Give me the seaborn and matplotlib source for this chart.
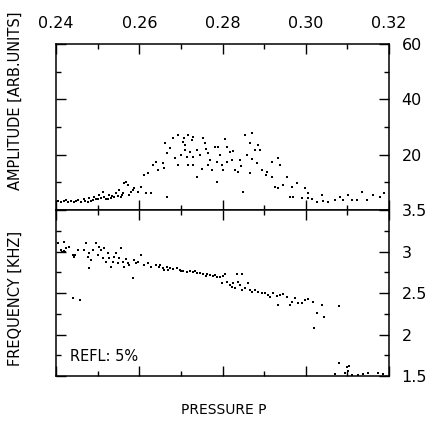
import numpy as np
import pandas as pd
import matplotlib
matplotlib.use('Agg')
import matplotlib.pyplot as plt
from matplotlib.ticker import MultipleLocator, FormatStrFormatter
import seaborn as sns

# amplitude vs pressure (upper panel)
amp_p = [0.2412, 0.2419, 0.2429, 0.2436, 0.2443, 0.2453, 0.2460, 0.2467, 0.2477, 0.2479,
         0.2489, 0.2491, 0.2501, 0.2503, 0.2513, 0.2515, 0.2520, 0.2527, 0.2532, 0.2539,
         0.2544, 0.2551, 0.2556, 0.2561, 0.2563, 0.2568, 0.2573, 0.2575, 0.2585, 0.2587,
         0.2597, 0.2604, 0.2612, 0.2621, 0.2616, 0.2628, 0.2633, 0.2640, 0.2645, 0.2657,
         0.2659, 0.2667, 0.2405, 0.2425, 0.2448, 0.2470, 0.2484, 0.2496, 0.2508, 0.2525,
         0.2535, 0.2548, 0.2558, 0.2580,
         0.2662, 0.2681, 0.2693, 0.2705, 0.2710, 0.2708, 0.2717, 0.2727, 0.2729, 0.2667,
         0.2674, 0.2686, 0.2693, 0.2710, 0.2722, 0.2729, 0.2717, 0.2729, 0.2739, 0.2746,
         0.2753, 0.2758, 0.2765, 0.2770, 0.2765, 0.2775, 0.2782, 0.2790, 0.2787, 0.2799,
         0.2802, 0.2787, 0.2739, 0.2811, 0.2818, 0.2811, 0.2823, 0.2830, 0.2837, 0.2842,
         0.2854, 0.2871, 0.2866, 0.2878, 0.2890, 0.2859, 0.2883, 0.2895, 0.2907, 0.2866,
         0.2849, 0.2700, 0.2715, 0.2750, 0.2760, 0.2795, 0.2805, 0.2825, 0.2845, 0.2870,
         0.2885,
         0.2904, 0.2919, 0.2933, 0.2938, 0.2919, 0.2926, 0.2933, 0.2945, 0.2955, 0.2967,
         0.2979, 0.2962, 0.2969, 0.2991, 0.2998, 0.3005, 0.3005, 0.3015, 0.3027, 0.3039,
         0.3041, 0.3053, 0.3070, 0.3082, 0.3089, 0.3102, 0.3111, 0.3123, 0.3135, 0.3147,
         0.3161, 0.3178, 0.3188]
amp_val = [2.9, 3.3, 2.9, 3.3, 2.9, 3.6, 2.9, 4.0, 2.9, 4.3,
           3.6, 4.7, 4.0, 5.4, 6.5, 4.7, 4.0, 5.4, 4.3, 4.7,
           6.1, 7.2, 4.7, 6.1, 9.8, 10.1, 9.0, 5.4, 7.2, 8.0,
           6.5, 8.3, 12.6, 13.4, 6.1, 6.1, 16.3, 17.3, 14.5, 17.0,
           15.2, 4.7, 3.2, 3.6, 3.3, 3.4, 3.1, 3.9, 4.4, 4.1,
           5.0, 5.2, 5.6, 6.6,
           24.2, 26.0, 27.0, 24.5, 23.5, 26.0, 27.0, 25.3, 26.4, 20.6,
           22.4, 18.8, 16.3, 21.7, 21.0, 19.2, 16.3, 16.3, 21.7, 19.9,
           26.0, 24.2, 20.6, 18.0, 16.3, 14.5, 22.8, 22.8, 17.3, 16.3,
           14.5, 10.1, 11.9, 22.8, 21.0, 17.3, 18.0, 14.5, 13.7, 18.0,
           27.0, 27.8, 24.2, 21.7, 21.7, 19.9, 17.0, 14.5, 13.7, 13.4,
           6.5, 20.0, 19.0, 15.0, 22.0, 20.0, 25.5, 21.5, 16.0, 18.5,
           23.5,
           12.8, 17.3, 18.8, 16.3, 11.9, 8.3, 8.0, 9.0, 11.9, 8.3,
           9.8, 4.7, 4.7, 4.3, 8.0, 6.1, 4.3, 4.0, 2.9, 5.4,
           3.3, 2.9, 3.6, 4.7, 3.6, 5.4, 3.6, 3.6, 6.5, 3.6,
           5.4, 4.7, 6.1]

# frequency vs pressure (lower panel)
freq_p = [0.2405, 0.2412, 0.2419, 0.2424, 0.2431, 0.2419, 0.2441, 0.2443, 0.2453, 0.2467,
          0.2472, 0.2477, 0.2479, 0.2484, 0.2479, 0.2489, 0.2496, 0.2501, 0.2503, 0.2508,
          0.2513, 0.2515, 0.2520, 0.2525, 0.2527, 0.2532, 0.2537, 0.2539, 0.2544, 0.2549,
          0.2551, 0.2556, 0.2561, 0.2563, 0.2568, 0.2573, 0.2575, 0.2585, 0.2587, 0.2592,
          0.2597, 0.2604, 0.2611, 0.2621, 0.2628, 0.2640, 0.2647, 0.2657, 0.2659, 0.2446,
          0.2441, 0.2458, 0.2415, 0.2422,
          0.2650, 0.2667, 0.2674, 0.2681, 0.2691, 0.2698, 0.2705, 0.2715, 0.2722, 0.2729,
          0.2739, 0.2746, 0.2753, 0.2763, 0.2770, 0.2777, 0.2787, 0.2794, 0.2801, 0.2806,
          0.2835, 0.2847, 0.2799, 0.2811, 0.2818, 0.2823, 0.2825, 0.2830, 0.2837, 0.2842,
          0.2847, 0.2854, 0.2861, 0.2866, 0.2871, 0.2878, 0.2885, 0.2895, 0.2902, 0.2909,
          0.2670, 0.2700, 0.2735, 0.2760, 0.2783,
          0.2914, 0.2921, 0.2931, 0.2938, 0.2945, 0.2955, 0.2933, 0.2962, 0.2967, 0.2974,
          0.2981, 0.2991, 0.2998, 0.3005, 0.3017, 0.3027, 0.3039, 0.3044, 0.3020, 0.3080,
          0.3080, 0.3099, 0.3102, 0.3104, 0.3094, 0.3070, 0.3111, 0.3126, 0.3138, 0.3150,
          0.3174, 0.3186]
freq_val = [3.10, 3.02, 3.01, 3.04, 3.05, 3.11, 2.96, 2.94, 3.02, 3.02,
            3.10, 2.94, 2.98, 2.90, 2.80, 3.02, 3.10, 2.96, 3.05, 3.02,
            2.92, 3.04, 2.87, 2.98, 2.92, 2.81, 2.87, 2.94, 2.98, 2.86,
            2.92, 3.04, 2.87, 2.81, 2.91, 2.86, 2.84, 2.68, 2.90, 2.86,
            2.87, 2.96, 2.84, 2.86, 2.81, 2.84, 2.81, 2.80, 2.78, 2.96,
            2.44, 2.42, 3.00, 2.99,
            2.84, 2.81, 2.80, 2.79, 2.80, 2.78, 2.77, 2.75, 2.77, 2.75,
            2.74, 2.74, 2.73, 2.73, 2.72, 2.70, 2.69, 2.69, 2.70, 2.73,
            2.73, 2.73, 2.62, 2.63, 2.60, 2.57, 2.62, 2.56, 2.63, 2.60,
            2.54, 2.56, 2.62, 2.54, 2.51, 2.54, 2.51, 2.50, 2.50, 2.48,
            2.78, 2.76, 2.76, 2.71, 2.72,
            2.45, 2.50, 2.46, 2.48, 2.49, 2.45, 2.36, 2.36, 2.39, 2.44,
            2.38, 2.38, 2.42, 2.43, 2.39, 2.26, 2.36, 2.21, 2.08, 2.34,
            1.66, 1.61, 1.56, 1.62, 1.54, 1.52, 1.51, 1.51, 1.53, 1.54,
            1.54, 1.53]

x_ticks = [0.24, 0.26, 0.28, 0.30, 0.32]

amp_df = pd.DataFrame({'p': amp_p, 'amp': amp_val})
freq_df = pd.DataFrame({'p': freq_p, 'freq': freq_val})

sns.set_style('ticks')
plt.rcParams['font.family'] = ['DejaVu Sans']
plt.rcParams['text.color'] = 'black'
plt.rcParams['xtick.color'] = 'black'
plt.rcParams['ytick.color'] = 'black'
plt.rcParams['xtick.labelcolor'] = 'black'
plt.rcParams['ytick.labelcolor'] = 'black'

fig = plt.figure(figsize=(4.38, 4.23), dpi=100)
ax1 = fig.add_axes([0.128, 0.5035, 0.760, 0.3925])
ax2 = fig.add_axes([0.128, 0.111, 0.760, 0.3925])

sns.scatterplot(data=amp_df, x='p', y='amp', ax=ax1, color='black', s=4,
                marker='s', linewidth=0, legend=False)
sns.scatterplot(data=freq_df, x='p', y='freq', ax=ax2, color='black', s=4,
                marker='s', linewidth=0, legend=False)

for ax in (ax1, ax2):
    ax.set_xlim(0.24, 0.32)
    ax.set_xticks(x_ticks)
    ax.xaxis.set_major_formatter(FormatStrFormatter('%.2f'))
    ax.xaxis.set_minor_locator(MultipleLocator(0.01))
    ax.set_xlabel('')
    ax.set_ylabel('')
    for s in ax.spines.values():
        s.set_visible(True)
        s.set_color('black')
        s.set_linewidth(1.1)
    ax.tick_params(which='both', direction='in', top=True, bottom=True,
                   left=True, right=True, labelleft=False, labelright=True,
                   labelbottom=False, color='black', width=1.0)
    ax.tick_params(which='major', length=7, labelsize=11.5, pad=9,
                   labelcolor='black')
    ax.tick_params(which='minor', length=3.5)

ax1.set_ylim(0, 60)
ax1.set_yticks([0, 20, 40, 60])
ax1.set_yticklabels(['', '20', '40', '60'])
ax1.yaxis.set_minor_locator(MultipleLocator(10))
ax1.tick_params(labeltop=True)

ax2.set_ylim(1.5, 3.5)
ax2.set_yticks([1.5, 2, 2.5, 3, 3.5])
ax2.set_yticklabels(['1.5', '2', '2.5', '3', '3.5'])
ax2.yaxis.set_minor_locator(MultipleLocator(0.25))

ax2.text(0.042, 0.12, 'REFL: 5%', transform=ax2.transAxes, fontsize=10.5,
         va='center', ha='left', color='black')

fig.text(0.034, 0.761, 'AMPLITUDE [ARB.UNITS]', rotation=90, fontsize=10.5,
         ha='center', va='center', color='black')
fig.text(0.034, 0.295, 'FREQUENCY [KHZ]', rotation=90, fontsize=10.5,
         ha='center', va='center', color='black')
fig.text(0.51, 0.031, 'PRESSURE P', fontsize=10, ha='center', va='center',
         color='black')

fig.savefig('out.png', dpi=100)
